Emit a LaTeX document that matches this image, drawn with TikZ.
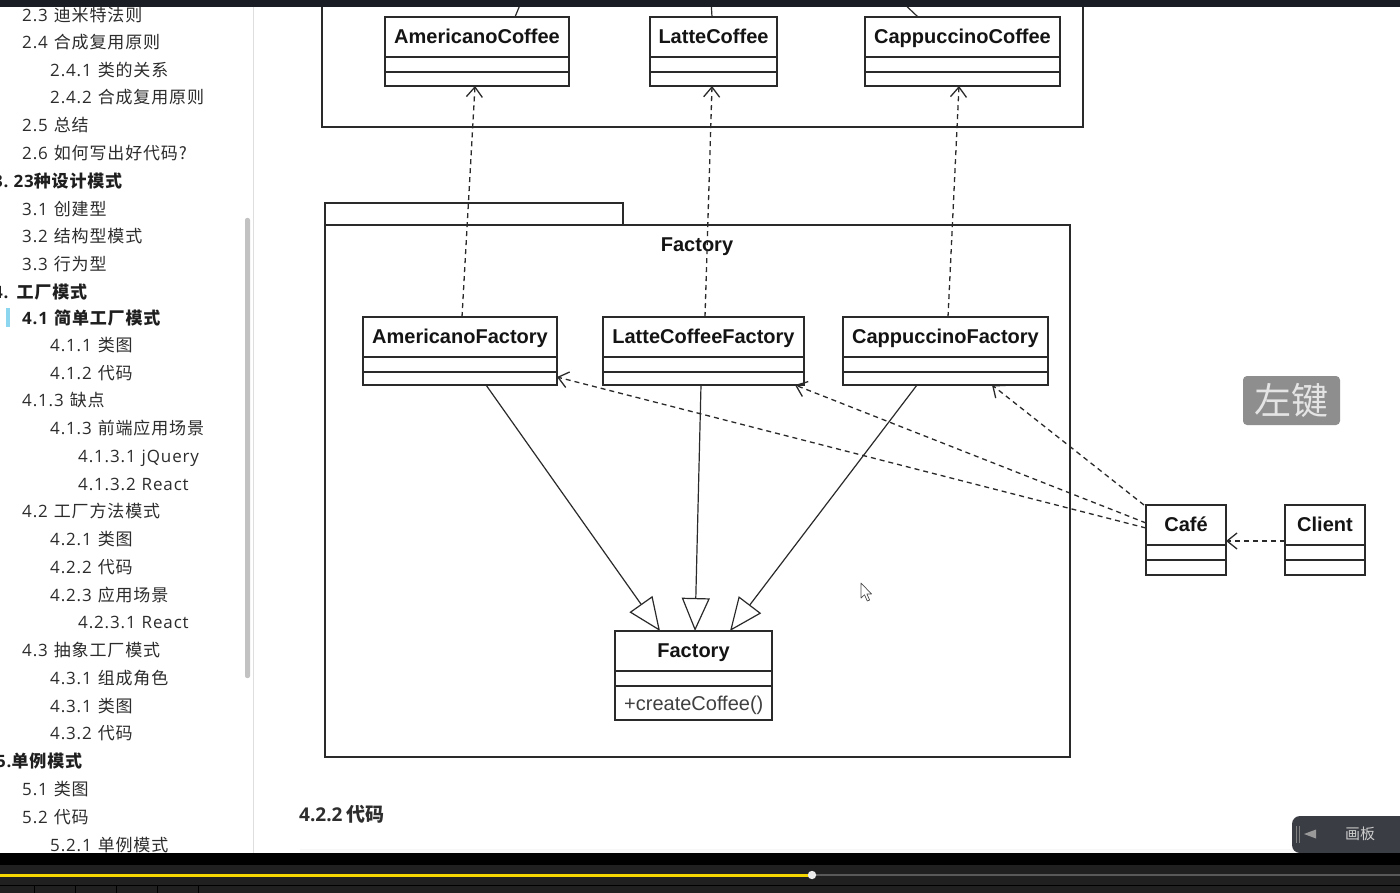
\documentclass[tikz,border=0pt]{standalone}
\usepackage{fontspec}
\setmainfont{Liberation Sans}
\newfontfamily\cjk{Noto Sans CJK SC}[LetterSpace=5]
\newfontfamily\cjkh{Noto Sans CJK SC}
\newfontfamily\lat{Open Sans}[LetterSpace=5]
\newfontfamily\lath{Open Sans}
\usetikzlibrary{arrows.meta,calc}
\definecolor{topbar}{HTML}{1B1D24}
\definecolor{ink}{HTML}{2A2A2A}
\definecolor{sidetext}{HTML}{2C2C2C}
\definecolor{sideline}{HTML}{DEDEDE}
\definecolor{scrollc}{HTML}{C2C2C2}
\definecolor{hilite}{HTML}{8DD6F0}
\definecolor{bbar}{HTML}{202020}
\definecolor{yellowbar}{RGB}{246,214,0}
\definecolor{keybg}{HTML}{8E8E8E}
\definecolor{keytx}{HTML}{E4E4E4}
\definecolor{btnbg}{HTML}{3A3D44}
\tikzset{
  side/.style={anchor=base west, inner sep=0pt, text=sidetext, font=\fontsize{17}{20}\selectfont},
  sideb/.style={side, text=black!88, font=\fontsize{17}{20}\selectfont\bfseries},
  clsbox/.style={draw=ink, line width=1.3pt, fill=white, inner sep=0pt, outer sep=0pt},
  clsline/.style={draw=ink, line width=1.3pt},
  clstitle/.style={anchor=base, inner sep=0pt, text=black!92, font=\fontsize{20}{24}\selectfont\bfseries},
  pkg/.style={draw=ink, line width=1.3pt},
  dep/.style={draw=ink, line width=1.3pt, dash pattern=on 5pt off 4pt,
    -{Straight Barb[length=10pt,width=16pt,line width=1.3pt]}},
  inh/.style={draw=ink, line width=1.2pt,
    -{Triangle[open, length=33pt, width=28pt, fill=white, line width=1.2pt]}},
}
\newcommand\sitem[5]{\node[side] (#1) at (#2,#3+6) {{\lat #4}\hspace{6pt}{\cjk #5}};}
\newcommand\umlclass[6]{%
  \node[clsbox, anchor=north west, minimum width=#4pt, minimum height=#5pt] (#1) at (#2,#3) {};
  \node[clstitle] (#1t) at ($(#1.north)+(0,26.5)$) {#6};
  \draw[clsline] ($(#1.north west)+(0,40)$) -- ($(#1.north east)+(0,40)$);
  \draw[clsline] ($(#1.north west)+(0,55)$) -- ($(#1.north east)+(0,55)$);
}
\begin{document}
\begin{tikzpicture}[x=1pt,y=-1pt]
\useasboundingbox (0,0) rectangle (1400,893);
\fill[white] (0,0) rectangle (1400,893);

% ---------- sidebar ----------
\begin{scope}
\clip (0,0) rectangle (253,853);
\sitem{s1}{22}{16}{2.3}{迪米特法则}
\sitem{s2}{22}{43}{2.4}{合成复用原则}
\sitem{s3}{50}{71}{2.4.1}{类的关系}
\sitem{s4}{50}{98}{2.4.2}{合成复用原则}
\sitem{s5}{22}{126}{2.5}{总结}
\sitem{s6}{22}{154}{2.6}{如何写出好代码?}
\node[sideb] (s7) at (-7,188) {{\lat 3.}\hspace{5pt}{\cjk{\lat 23}种设计模式}};
\sitem{s8}{22}{210}{3.1}{创建型}
\sitem{s9}{22}{237}{3.2}{结构型模式}
\sitem{s10}{22}{265}{3.3}{行为型}
\node[sideb] (s11) at (-7,299) {{\lat 4.}\hspace{8pt}{\cjk 工厂模式}};
\fill[hilite] (6,308) rectangle (10,327);
\node[sideb] (s12) at (22,324) {{\lat 4.1}\hspace{6pt}{\cjk 简单工厂模式}};
\sitem{s13}{50}{345}{4.1.1}{类图}
\sitem{s14}{50}{373}{4.1.2}{代码}
\sitem{s15}{22}{400}{4.1.3}{缺点}
\sitem{s16}{50}{428}{4.1.3}{前端应用场景}
\sitem{s17}{78}{456}{4.1.3.1}{\lat jQuery}
\sitem{s18}{78}{484}{4.1.3.2}{\lat React}
\sitem{s19}{22}{511}{4.2}{工厂方法模式}
\sitem{s20}{50}{539}{4.2.1}{类图}
\sitem{s21}{50}{567}{4.2.2}{代码}
\sitem{s22}{50}{595}{4.2.3}{应用场景}
\sitem{s23}{78}{622}{4.2.3.1}{\lat React}
\sitem{s24}{22}{650}{4.3}{抽象工厂模式}
\sitem{s25}{50}{678}{4.3.1}{组成角色}
\sitem{s26}{50}{706}{4.3.1}{类图}
\sitem{s27}{50}{733}{4.3.2}{代码}
\node[sideb] (s28) at (-4,767) {{\lat 5.}{\cjk 单例模式}};
\sitem{s29}{22}{789}{5.1}{类图}
\sitem{s30}{22}{817}{5.2}{代码}
\sitem{s31}{50}{845}{5.2.1}{单例模式}
\end{scope}
\fill[scrollc, rounded corners=2pt] (245,218) rectangle (250,678);
\draw[sideline, line width=1pt] (253.5,0) -- (253.5,853);

% ---------- top (Coffee) package, cut off ----------
\draw[pkg] (322,0) -- (322,127) -- (1083,127) -- (1083,0);
\umlclass{ac}{385}{17}{184}{69}{AmericanoCoffee}
\umlclass{lc}{650}{17}{127}{69}{LatteCoffee}
\umlclass{cc}{865}{17}{195}{69}{CappuccinoCoffee}
\coordinate (acup) at (522,0);
\coordinate (lcup) at (711,0);
\coordinate (ccup) at (900,0);
\draw[draw=ink, line width=1.2pt] (acup) -- ($(ac.north west)+(130,0)$);
\draw[draw=ink, line width=1.2pt] (lcup) -- ($(lc.north west)+(62,0)$);
\draw[draw=ink, line width=1.2pt] (ccup) -- ($(cc.north west)+(53,0)$);

% ---------- Factory package ----------
\draw[pkg, fill=white] (325,203) rectangle (623,225);
\draw[pkg] (325,225) rectangle (1070,757);
\node[clstitle] (pkgname) at (697,252) {Factory};

\umlclass{af}{363}{317}{194}{68}{AmericanoFactory}
\umlclass{lf}{603}{317}{201}{68}{LatteCoffeeFactory}
\umlclass{cf}{843}{317}{205}{68}{CappuccinoFactory}
\umlclass{fi}{615}{631}{157}{89}{Factory}
\node[anchor=base west, inner sep=0pt, text=black!75, font=\fontsize{20}{24}\selectfont] (fim) at ($(fi.north west)+(9,79)$) {+createCoffee()};

\umlclass{cafe}{1146}{505}{80}{70}{Café}
\umlclass{client}{1285}{505}{80}{70}{Client}

% dependencies to products
\draw[dep] ($(af.north west)+(99,0)$) -- ($(ac.south west)+(90,0)$);
\draw[dep] ($(lf.north west)+(102,0)$) -- ($(lc.south west)+(62,0)$);
\draw[dep] ($(cf.north west)+(105,0)$) -- ($(cc.south west)+(94,0)$);

% realisation of Factory
\draw[inh] ($(af.south west)+(123,0)$) -- ($(fi.north west)+(45,0)$);
\draw[inh] ($(lf.south west)+(98,0)$) -- ($(fi.north west)+(80,0)$);
\draw[inh] ($(cf.south west)+(74,0)$) -- ($(fi.north west)+(115,0)$);

% Cafe dependencies
\draw[dep] ($(cafe.north west)+(0,23)$) -- ($(af.north east)+(0,60)$);
\draw[dep] ($(cafe.north west)+(0,18)$) -- ($(lf.south west)+(192,0)$);
\draw[dep] ($(cafe.north west)+(-2,0)$) -- ($(cf.south west)+(149,0)$);
\draw[dep] ($(client.north west)+(0,36)$) -- ($(cafe.north east)+(0,36)$);

% mouse pointer
\draw[black!70, fill=white, line width=0.7pt, line join=round]
  (861,583) -- (861,598) -- (864.5,594.8) -- (867.3,601) -- (869.6,600) -- (866.9,594) -- (871.5,594) -- cycle;

% heading
\node[anchor=base west, inner sep=0pt, text=black!82, font=\fontsize{19}{22}\selectfont\bfseries] (h422) at (299,821) {{\lath 4.2.2}\hspace{4pt}{\cjkh 代码}};

% overlay key hint
\node[fill=keybg, rounded corners=4pt, minimum width=97pt, minimum height=49pt, inner sep=0pt,
  text=keytx, font=\cjkh\fontsize{37}{40}\selectfont] (key) at (1291.5,400.5) {左键};

% faint band
\fill[black!3] (300,849) rectangle (1400,853);

% drawing-board button
\fill[btnbg, rounded corners=8pt] (1292,816) rectangle (1420,853);
\draw[black!50, line width=0.8pt] (1296.5,826) -- (1296.5,843) (1299.5,826) -- (1299.5,843);
\fill[black!40] (1304,834) -- (1316,829.5) -- (1316,838.5) -- cycle;
\node[inner sep=0pt, text=black!20, font=\cjkh\fontsize{15}{18}\selectfont] (board) at (1360,834) {画板};

% top bar
\fill[topbar] (0,0) rectangle (1400,7);

% bottom player bar
\fill[black] (0,853) rectangle (1400,865);
\fill[bbar] (0,865) rectangle (1400,893);
\fill[black!65] (812,874) rectangle (1400,876);
\fill[yellowbar] (0,873.5) rectangle (812,876.5);
\fill[white!92!black] (812,875) circle (4.2);
\fill[black] (0,884.8) rectangle (1400,886.2);
\foreach \xx in {34,75,116,157,198} \draw[black, line width=1pt] (\xx,886) -- (\xx,893);
\end{tikzpicture}
\end{document}
